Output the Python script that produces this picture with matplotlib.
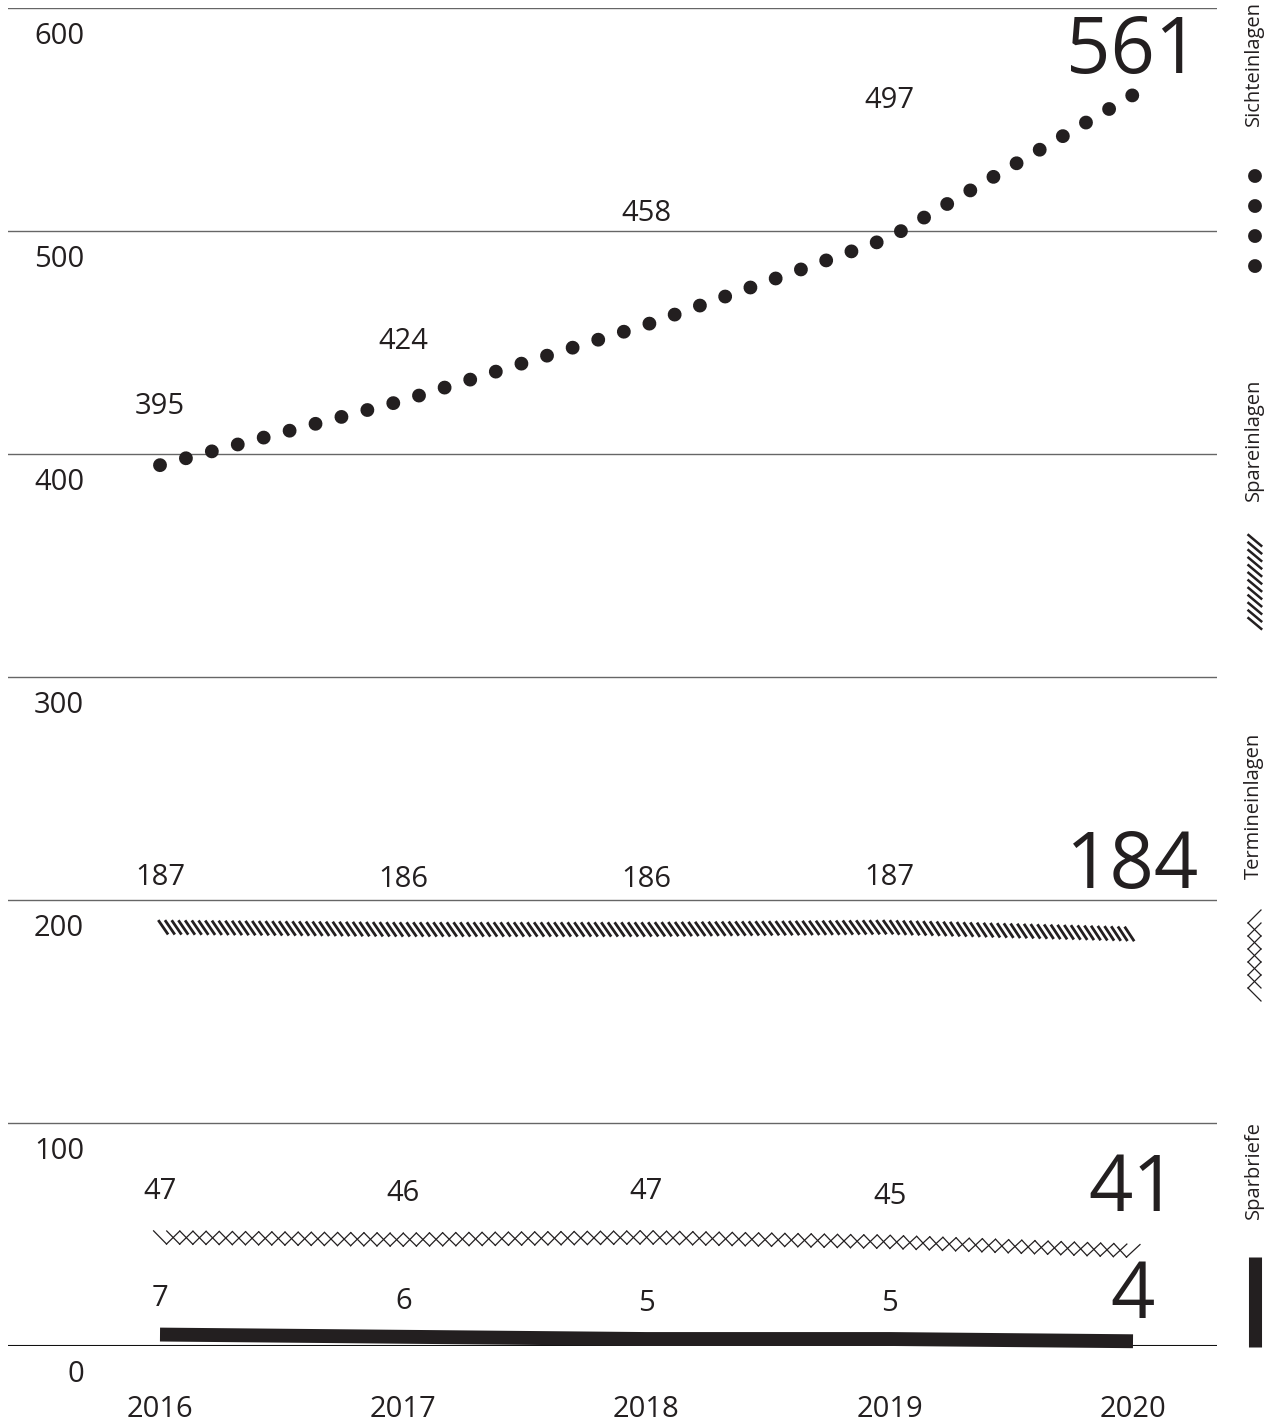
import numpy as np
import matplotlib
matplotlib.use('Agg')
import matplotlib.pyplot as plt
from matplotlib import patheffects as pe

plt.rcParams['font.family'] = ['Open Sans', 'DejaVu Sans']

# data (Mrd. EUR)
years = [2016, 2017, 2018, 2019, 2020]
sichteinlagen = [395, 424, 458, 497, 561]
spareinlagen = [187, 186, 186, 187, 184]
termineinlagen = [47, 46, 47, 45, 41]
sparbriefe = [7, 6, 5, 5, 4]
y_ticks = [0, 100, 200, 300, 400, 500, 600]
names = ['Sichteinlagen', 'Spareinlagen', 'Termineinlagen', 'Sparbriefe']

INK = '#231f20'
W, H, DPI = 1278, 1423, 100

fig = plt.figure(figsize=(W / DPI, H / DPI), dpi=DPI)
# plot box: x 8..1217 px, y 8..1346 px (from top)
ax = fig.add_axes([8 / W, (H - 1346) / H, (1217 - 8) / W, (1346 - 8) / H])
ax.set_xlim(2016 - 152 / 243.25, 2020 + 84 / 243.25)
ax.set_ylim(0, 600)
ax.axis('off')

# gridlines + y labels
for v in y_ticks:
    if v == 0:
        ax.axhline(v, color='#111111', lw=1.5, zorder=1)
    else:
        ax.axhline(v, color='#666666', lw=1.0, zorder=1)
    ax.annotate(str(v), xy=(0.063, v), xycoords=('axes fraction', 'data'),
                xytext=(0, -25), textcoords='offset pixels',
                ha='right', va='center_baseline', fontsize=21, color=INK)

# year labels
for yr in years:
    ax.annotate(str(yr), xy=(yr, 0), xytext=(0, -60), textcoords='offset pixels',
                ha='center', va='center_baseline', fontsize=21, color=INK,
                annotation_clip=False)

# Sichteinlagen - dotted
ax.plot(years, sichteinlagen, color=INK, lw=10, linestyle=(0, (0.001, 1.93)),
        dash_capstyle='round', clip_on=False, zorder=3)

# Spareinlagen - hatched band
ax.plot(years, spareinlagen, color=INK, lw=2.0, clip_on=False, zorder=3,
        path_effects=[pe.TickedStroke(offset=(-3.1, 5.6), spacing=4.8,
                                      angle=-55, length=2.2)])

# Termineinlagen - chain of diamonds
ax.plot(years, termineinlagen, color=INK, lw=0.9, clip_on=False, zorder=3,
        path_effects=[pe.TickedStroke(offset=(0, -2), spacing=9.4, angle=45,
                                      length=np.sqrt(2)),
                      pe.TickedStroke(offset=(0, -2), spacing=9.4, angle=135,
                                      length=np.sqrt(2))])

# Sparbriefe - thick bar
ax.plot(years, sparbriefe, color=INK, lw=10, solid_capstyle='butt', clip_on=False,
        zorder=3, path_effects=[pe.Stroke(offset=(0, -3))])

# value labels
series = [sichteinlagen, spareinlagen, termineinlagen, sparbriefe]
small_off = [[62, 62, 115, 141], [55] * 4, [53] * 4, [35] * 4]
big_off = [52, 78, 74, 49]
for vals, offs, boff in zip(series, small_off, big_off):
    for yr, v, o in zip(years[:-1], vals[:-1], offs):
        ax.annotate(str(v), xy=(yr, v), xytext=(0, o), textcoords='offset pixels',
                    ha='center', va='center_baseline', fontsize=21, color=INK)
    ax.annotate(str(vals[-1]), xy=(years[-1], vals[-1]), xytext=(0, boff),
                textcoords='offset pixels', ha='center', va='center_baseline',
                fontsize=56, color=INK)

# legend column on the right (pixel coords)
lax = fig.add_axes([0, 0, 1, 1])
lax.set_xlim(0, W)
lax.set_ylim(H, 0)
lax.axis('off')
lax.patch.set_alpha(0)

for name, yc in zip(names, [63, 440, 806, 1170]):
    lax.text(1254, yc, name, rotation=90, ha='center', va='center',
             fontsize=14.5, color=INK)

lax.plot([1255, 1255], [176, 267], color=INK, lw=10,
         linestyle=(0, (0.001, 2.16)), dash_capstyle='round')
lax.plot([1255, 1255], [537, 627], color=INK, lw=1.8,
         path_effects=[pe.TickedStroke(offset=(-4.7, 3.9), spacing=5,
                                       angle=50, length=2.4)])
lax.plot([1248, 1248], [917, 994], color=INK, lw=0.9,
         path_effects=[pe.TickedStroke(spacing=8.64, angle=45, length=1.532),
                       pe.TickedStroke(spacing=8.64, angle=135, length=1.532)])
lax.plot([1254.5, 1254.5], [1257, 1347], color=INK, lw=9.4, solid_capstyle='butt')

fig.savefig('out.png', dpi=DPI)
